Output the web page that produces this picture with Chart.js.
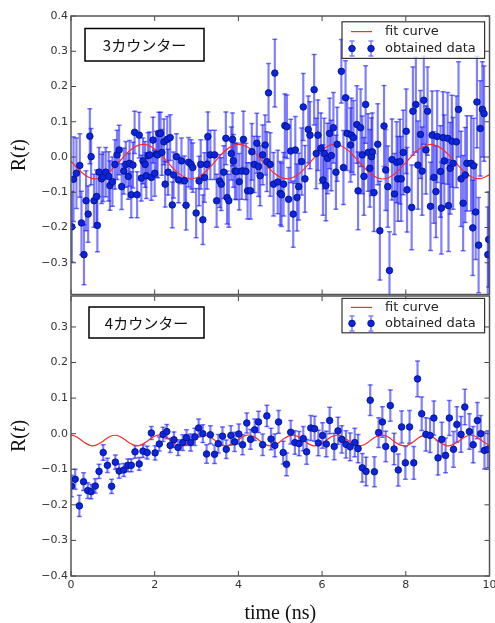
<!DOCTYPE html>
<html><head><meta charset="utf-8">
<script src="https://cdn.jsdelivr.net/npm/chart.js@4/dist/chart.umd.min.js"></script>
<style>
html,body{margin:0;padding:0;background:#fff;}
#wrap{position:relative;width:495px;height:623px;overflow:hidden;background:#fff;}
#c1{position:absolute;left:0;top:0;width:495px;height:300px;}
#c2{position:absolute;left:0;top:290px;width:495px;height:333px;}
</style></head><body>
<div id="wrap"><canvas id="c1" width="495" height="300"></canvas><canvas id="c2" width="495" height="333"></canvas></div>
<script>
// ---------- tick labels / text ----------
const xTicks = [0, 2, 4, 6, 8, 10];
const topYTicks = [-0.3, -0.2, -0.1, 0.0, 0.1, 0.2, 0.3, 0.4];
const botYTicks = [-0.4, -0.3, -0.2, -0.1, 0.0, 0.1, 0.2, 0.3];
const panelLabels = ['3カウンター', '4カウンター'];
const legendLabels = ['fit curve', 'obtained data'];
const xTitle = 'time (ns)';

// ---------- top panel (3 counters): obtained data ----------
const topX = [0.02,0.06,0.13,0.21,0.25,0.31,0.36,0.41,0.45,0.48,
0.55,0.61,0.63,0.67,0.73,0.77,0.83,0.90,0.93,0.99,
1.05,1.10,1.15,1.21,1.26,1.31,1.37,1.40,1.44,1.48,
1.52,1.58,1.63,1.68,1.72,1.77,1.80,1.84,1.88,1.92,
1.96,2.00,2.04,2.07,2.10,2.14,2.17,2.22,2.25,2.30,
2.32,2.37,2.42,2.45,2.52,2.57,2.64,2.71,2.75,2.81,
2.87,2.91,2.99,3.06,3.10,3.15,3.19,3.25,3.27,3.33,
3.43,3.48,3.55,3.59,3.65,3.70,3.73,3.77,3.83,3.86,
3.88,3.92,3.96,4.02,4.08,4.12,4.18,4.22,
4.29,4.32,4.38,4.44,4.48,4.52,4.58,4.64,4.68,4.72,
4.76,4.84,4.87,4.94,5.00,5.03,5.08,5.11,5.16,5.20,
5.25,5.31,5.36,5.40,5.44,5.51,5.55,5.59,5.67,5.71,
5.81,5.86,5.90,5.97,6.02,6.05,6.09,6.13,6.18,6.22,
6.27,6.33,6.36,6.46,6.51,6.56,6.60,6.68,6.70,6.75,
6.83,6.86,6.92,6.96,7.00,7.04,7.10,7.14,7.18,7.20,
7.24,7.33,7.38,7.48,7.52,7.57,7.61,7.67,7.73,7.78,
7.81,7.86,7.89,7.94,8.01,8.03,8.14,8.17,8.24,8.29,
8.35,8.39,8.43,8.48,8.52,8.59,8.63,8.67,8.72,8.75,
8.83,8.85,8.89,8.92,9.00,9.02,9.06,9.10,9.13,9.21,
9.26,9.32,9.37,9.42,9.46,9.56,9.60,9.62,9.67,9.70,
9.74,9.78,9.83,9.87,9.96,9.98];
const topY = [-0.198,-0.063,-0.046,-0.024,-0.187,-0.277,-0.124,-0.162,0.059,0.001,
-0.124,-0.112,-0.194,-0.043,-0.062,-0.056,-0.043,-0.055,-0.081,-0.070,
-0.021,0.006,0.020,-0.084,-0.040,-0.021,-0.055,-0.018,-0.107,-0.023,
0.070,-0.107,0.062,-0.060,-0.011,-0.021,-0.053,0.004,0.006,-0.058,
0.048,-0.046,0.008,0.006,0.067,0.067,0.013,0.043,-0.077,0.050,
-0.043,0.055,-0.136,-0.051,0.001,-0.065,-0.011,-0.067,-0.137,-0.015,
-0.021,-0.030,-0.159,-0.068,-0.021,-0.178,-0.058,-0.021,0.058,0.006,
0.006,-0.124,-0.068,-0.077,-0.043,0.053,-0.115,-0.124,0.010,0.050,
-0.011,-0.040,-0.041,-0.070,-0.040,0.050,-0.041,-0.096,
-0.096,0.015,-0.021,0.039,-0.027,-0.053,0.006,0.034,-0.013,0.182,
-0.021,-0.077,0.238,-0.071,-0.103,-0.107,-0.077,0.089,0.086,-0.120,
0.017,-0.162,0.020,-0.115,-0.084,-0.013,0.142,-0.062,0.078,0.062,
0.191,0.010,0.062,0.025,-0.065,0.010,-0.081,-0.004,0.067,0.004,
0.083,-0.043,0.036,0.243,-0.030,0.168,0.067,0.034,0.062,0.055,
0.092,-0.096,0.083,0.006,-0.055,0.149,0.013,-0.032,0.001,0.015,
-0.101,0.036,-0.209,0.088,-0.037,-0.084,-0.322,-0.007,-0.105,-0.015,
-0.062,-0.013,-0.062,0.013,0.073,-0.093,-0.143,0.130,0.149,-0.023,
0.064,-0.040,0.161,0.020,0.130,-0.140,0.062,-0.058,-0.098,0.058,
-0.041,-0.145,0.055,-0.011,0.053,-0.138,-0.032,0.045,-0.018,0.043,
0.135,-0.062,-0.131,-0.051,-0.018,-0.018,-0.201,-0.025,-0.156,0.156,
-0.250,0.081,0.135,0.123,-0.277,-0.234];
const topErr = [0.10,0.12,0.10,0.09,0.09,0.085,0.085,0.08,0.078,0.08,
0.075,0.075,0.075,0.07,0.07,0.07,0.07,0.07,0.07,0.07,
0.07,0.07,0.07,0.065,0.065,0.065,0.065,0.065,0.065,0.065,
0.06,0.065,0.065,0.065,0.065,0.065,0.065,0.065,0.065,0.065,
0.065,0.065,0.065,0.065,0.06,0.06,0.065,0.065,0.065,0.065,
0.065,0.065,0.065,0.065,0.065,0.065,0.065,0.07,0.07,0.07,
0.07,0.07,0.07,0.07,0.07,0.07,0.07,0.07,0.07,0.07,
0.07,0.075,0.075,0.075,0.075,0.075,0.075,0.075,0.075,0.075,
0.075,0.08,0.08,0.08,0.08,0.08,0.08,0.08,
0.08,0.08,0.08,0.085,0.085,0.085,0.085,0.085,0.085,0.083,
0.09,0.09,0.096,0.09,0.09,0.09,0.09,0.09,0.09,0.09,
0.09,0.094,0.095,0.095,0.095,0.095,0.095,0.095,0.095,0.095,
0.10,0.10,0.10,0.10,0.10,0.10,0.10,0.10,0.10,0.10,
0.10,0.105,0.105,0.09,0.105,0.105,0.105,0.105,0.105,0.105,
0.11,0.11,0.11,0.11,0.11,0.11,0.11,0.11,0.11,0.11,
0.11,0.115,0.14,0.115,0.115,0.115,0.11,0.115,0.115,0.115,
0.12,0.12,0.12,0.12,0.12,0.12,0.12,0.125,0.135,0.125,
0.125,0.125,0.125,0.125,0.125,0.125,0.125,0.13,0.13,0.13,
0.13,0.13,0.13,0.13,0.13,0.13,0.13,0.13,0.13,0.13,
0.135,0.135,0.135,0.135,0.135,0.135,0.135,0.135,0.135,0.13,
0.135,0.135,0.135,0.135,0.135,0.135];

// ---------- top panel fit curve ----------
const topFitX = [0,0.2,0.4,0.6,0.8,1.0,1.2,1.4,1.6,1.8,2.0,2.2,2.4,2.6,2.8,3.0,3.2,3.4,3.6,3.8,
4.0,4.2,4.4,4.6,4.8,5.0,5.2,5.4,5.6,5.8,6.0,6.2,6.4,6.6,6.8,7.0,7.2,7.4,7.6,7.8,
8.0,8.2,8.4,8.6,8.8,9.0,9.2,9.4,9.6,9.8,10.0];
const topFitY = [-0.012,-0.038,-0.056,-0.062,-0.053,-0.033,-0.007,0.018,0.033,0.035,
0.023,0.000,-0.027,-0.049,-0.061,-0.059,-0.043,-0.019,0.008,0.028,
0.036,0.030,0.011,-0.015,-0.040,-0.057,-0.062,-0.052,-0.030,-0.004,
0.020,0.034,0.034,0.021,-0.003,-0.029,-0.051,-0.062,-0.058,-0.041,
-0.016,0.010,0.029,0.036,0.028,0.009,-0.017,-0.042,-0.058,-0.061,-0.050];

// ---------- bottom panel (4 counters): obtained data ----------
const botX = [0.01,0.10,0.20,0.30,0.40,0.48,0.58,0.67,0.77,0.87,
0.97,1.06,1.15,1.26,1.36,1.44,1.53,1.63,1.72,1.82,
1.92,2.01,2.11,2.20,2.29,2.37,2.46,
2.56,2.67,2.76,2.86,2.96,3.05,3.15,3.24,3.33,3.43,
3.52,3.62,3.71,3.82,3.91,4.01,4.10,4.20,4.29,4.39,
4.48,4.58,4.68,4.78,4.87,4.96,
5.07,5.15,5.25,5.35,5.45,5.55,5.63,5.73,5.82,5.91,
6.01,6.10,6.18,6.29,6.38,6.47,6.57,6.67,6.78,6.86,
6.96,7.05,7.15,7.25,7.35,7.44,7.52,
7.63,7.72,7.82,7.90,7.99,8.09,8.19,8.28,8.38,8.48,
8.58,8.67,8.77,8.86,8.95,9.04,9.14,9.22,9.32,9.41,
9.52,9.61,9.71,9.79,9.88,9.96];
const botY = [-0.147,-0.128,-0.203,-0.135,-0.160,-0.163,-0.147,-0.106,-0.053,-0.089,
-0.148,-0.080,-0.105,-0.102,-0.089,-0.089,-0.051,-0.085,-0.049,-0.053,
0.002,-0.054,-0.029,-0.002,0.006,-0.033,-0.017,
-0.039,-0.025,-0.011,-0.025,-0.009,0.016,0.000,-0.057,-0.003,-0.058,
-0.028,-0.007,-0.044,-0.005,-0.023,-0.001,-0.031,0.030,-0.016,0.011,
0.033,-0.031,0.050,-0.015,-0.033,0.033,
-0.053,-0.086,0.004,-0.025,-0.028,-0.014,-0.051,0.016,0.014,-0.026,
-0.005,-0.029,0.037,-0.036,0.008,-0.016,-0.030,-0.037,-0.025,-0.042,
-0.096,-0.106,0.094,-0.107,0.003,0.033,-0.036,
0.079,-0.043,-0.102,0.019,-0.082,0.019,-0.082,0.154,0.056,-0.002,
-0.005,0.044,-0.068,-0.016,-0.061,0.044,-0.044,0.026,-0.002,0.075,
0.006,-0.031,0.037,0.000,-0.047,-0.044];
const botErr = [0.030,0.028,0.030,0.025,0.022,0.020,0.020,0.020,0.022,0.020,
0.020,0.020,0.020,0.018,0.018,0.018,0.018,0.018,0.018,0.018,
0.018,0.020,0.020,0.020,0.020,0.020,0.022,
0.022,0.022,0.022,0.024,0.024,0.025,0.025,0.026,0.025,0.026,
0.026,0.026,0.026,0.027,0.027,0.028,0.028,0.028,0.028,0.030,
0.030,0.030,0.030,0.030,0.032,0.032,
0.032,0.032,0.033,0.033,0.034,0.034,0.035,0.035,0.035,0.036,
0.036,0.036,0.037,0.037,0.038,0.038,0.038,0.039,0.040,0.040,
0.040,0.040,0.043,0.042,0.042,0.043,0.043,
0.044,0.044,0.045,0.045,0.046,0.046,0.046,0.050,0.047,0.047,
0.048,0.048,0.048,0.048,0.049,0.049,0.050,0.050,0.050,0.050,
0.050,0.051,0.051,0.051,0.052,0.052];

// ---------- bottom panel fit curve ----------
const botFitX = [0,0.1,0.2,0.3,0.4,0.5,0.6,0.7,0.8,0.9,1.0,1.1,1.2,1.3,1.4,1.5,1.6,1.7,1.8,1.9,
2.0,2.1,2.2,2.3,2.4,2.5,2.6,2.7,2.8,2.9,3.0,3.1,3.2,3.3,3.4,3.5,3.6,3.7,3.8,3.9,
4.0,4.1,4.2,4.3,4.4,4.5,4.6,4.7,4.8,4.9,5.0,5.1,5.2,5.3,5.4,5.5,5.6,5.7,5.8,5.9,
6.0,6.1,6.2,6.3,6.4,6.5,6.6,6.7,6.8,6.9,7.0,7.1,7.2,7.3,7.4,7.5,7.6,7.7,7.8,7.9,
8.0,8.1,8.2,8.3,8.4,8.5,8.6,8.7,8.8,8.9,9.0,9.1,9.2,9.3,9.4,9.5,9.6,9.7,9.8,9.9,10.0];
const botFitY = [-0.004,-0.007,-0.014,-0.023,-0.030,-0.034,-0.032,-0.026,-0.018,-0.010,
-0.005,-0.005,-0.010,-0.018,-0.026,-0.032,-0.034,-0.030,-0.023,-0.014,
-0.007,-0.004,-0.006,-0.012,-0.021,-0.029,-0.034,-0.033,-0.028,-0.020,
-0.011,-0.005,-0.004,-0.008,-0.015,-0.024,-0.031,-0.034,-0.032,-0.025,
-0.017,-0.009,-0.004,-0.005,-0.010,-0.019,-0.027,-0.033,-0.034,-0.030,
-0.022,-0.013,-0.007,-0.004,-0.007,-0.013,-0.022,-0.030,-0.034,-0.033,
-0.027,-0.019,-0.010,-0.005,-0.004,-0.009,-0.017,-0.025,-0.032,-0.034,
-0.031,-0.024,-0.015,-0.008,-0.004,-0.005,-0.011,-0.020,-0.028,-0.033,
-0.034,-0.029,-0.021,-0.012,-0.006,-0.004,-0.007,-0.014,-0.023,-0.030,
-0.034,-0.032,-0.026,-0.018,-0.010,-0.005,-0.005,-0.010,-0.018,-0.026,-0.032];

// ---------- styling ----------
const ERR = 'rgba(20,20,255,0.55)';
const PT_FILL = '#0b24e4';
const PT_EDGE = '#00106e';
const FIT = '#ff2b2b';
const TICK_FONT = {family: 'DejaVu Sans', size: 11};
const SERIF = '"Liberation Serif", "DejaVu Serif", serif';

function fmtY(v) {
  const r = Math.round(v * 10) / 10;
  return (r < 0 ? '\u2212' : '') + Math.abs(r).toFixed(1);
}

const decor = {
  id: 'decor',
  afterDatasetsDraw(chart, args, o) {
    const {ctx, chartArea: a} = chart;
    const xs = chart.scales.x, ys = chart.scales.y;
    ctx.save();
    // inward ticks on all four sides
    ctx.strokeStyle = '#444';
    ctx.lineWidth = 1;
    ctx.beginPath();
    xTicks.forEach(v => {
      const px = xs.getPixelForValue(v);
      ctx.moveTo(px, a.bottom); ctx.lineTo(px, a.bottom - 5);
      ctx.moveTo(px, a.top); ctx.lineTo(px, a.top + 5);
    });
    o.yTicks.forEach(v => {
      const py = ys.getPixelForValue(v);
      ctx.moveTo(a.left, py); ctx.lineTo(a.left + 5, py);
      ctx.moveTo(a.right, py); ctx.lineTo(a.right - 5, py);
    });
    ctx.stroke();
    // axes frame
    ctx.strokeStyle = '#555';
    ctx.lineWidth = 1.5;
    ctx.strokeRect(a.left, a.top, a.right - a.left, a.bottom - a.top);

    // panel label box
    const [bdx, bdy, bw, bh] = o.box;
    const bx = a.left + bdx, by = a.top + bdy;
    ctx.fillStyle = '#fff';
    ctx.fillRect(bx, by, bw, bh);
    ctx.strokeStyle = '#000';
    ctx.lineWidth = 1.5;
    ctx.strokeRect(bx, by, bw, bh);
    ctx.fillStyle = '#111';
    ctx.font = '15px "Noto Sans CJK JP"';
    ctx.textAlign = 'center';
    ctx.textBaseline = 'middle';
    ctx.fillText(o.label, bx + bw / 2, by + bh / 2 + 0.5);

    // legend
    const lx = a.left + 271, ly = a.top + o.legTop, lw = 142.6, lh = o.legH;
    ctx.fillStyle = 'rgba(255,255,255,0.8)';
    ctx.fillRect(lx, ly, lw, lh);
    ctx.strokeStyle = '#333';
    ctx.lineWidth = 1.2;
    ctx.strokeRect(lx, ly, lw, lh);
    const r1 = ly + o.r1, r2 = ly + o.r2;
    ctx.strokeStyle = FIT;
    ctx.lineWidth = 1.2;
    ctx.beginPath();
    ctx.moveTo(lx + 9, r1); ctx.lineTo(lx + 30, r1);
    ctx.stroke();
    [lx + 10, lx + 29].forEach(mx => {
      ctx.strokeStyle = ERR;
      ctx.lineWidth = 1.5;
      ctx.beginPath();
      ctx.moveTo(mx, r2 - 7.5); ctx.lineTo(mx, r2 + 7.5);
      ctx.moveTo(mx - 2.5, r2 - 7.5); ctx.lineTo(mx + 2.5, r2 - 7.5);
      ctx.moveTo(mx - 2.5, r2 + 7.5); ctx.lineTo(mx + 2.5, r2 + 7.5);
      ctx.stroke();
      ctx.beginPath();
      ctx.arc(mx, r2, 3.3, 0, Math.PI * 2);
      ctx.fillStyle = PT_FILL;
      ctx.fill();
      ctx.strokeStyle = PT_EDGE;
      ctx.lineWidth = 0.8;
      ctx.stroke();
    });
    ctx.fillStyle = '#222';
    ctx.font = '13px "DejaVu Sans"';
    ctx.textAlign = 'left';
    ctx.textBaseline = 'middle';
    ctx.fillText(legendLabels[0], lx + 43, r1);
    ctx.fillText(legendLabels[1], lx + 43, r2);

    // y-axis title R(t) with italic t
    const cy = (a.top + a.bottom) / 2;
    ctx.translate(20, cy);
    ctx.rotate(-Math.PI / 2);
    ctx.fillStyle = '#111';
    ctx.textBaseline = 'middle';
    ctx.textAlign = 'left';
    const fN = '20px ' + SERIF, fI = 'italic 20px ' + SERIF;
    ctx.font = fN; const w1 = ctx.measureText('R(').width, w3 = ctx.measureText(')').width;
    ctx.font = fI; const w2 = ctx.measureText('t').width;
    let sx = -(w1 + w2 + w3) / 2;
    ctx.font = fN; ctx.fillText('R(', sx, 0); sx += w1;
    ctx.font = fI; ctx.fillText('t', sx, 0); sx += w2;
    ctx.font = fN; ctx.fillText(')', sx, 0);
    ctx.restore();
  }
};

function makePanel(id, P) {
  const pts = P.x.map((t, i) => ({x: t, y: P.y[i]}));
  const bars = P.x.map((t, i) => ({x: t, y: [P.y[i] - P.e[i], P.y[i] + P.e[i]]}));
  const caps = [];
  P.x.forEach((t, i) => {
    caps.push({x: t, y: P.y[i] - P.e[i]});
    caps.push({x: t, y: P.y[i] + P.e[i]});
  });
  const fit = P.fx.map((t, i) => ({x: t, y: P.fy[i]}));
  const xScale = {
    type: 'linear', min: 0, max: 10, offset: false,
    display: P.showX,
    afterBuildTicks: s => { s.ticks = xTicks.map(v => ({value: v})); },
    afterFit: s => { s.height = P.xHeight; s.paddingLeft = 0; s.paddingRight = 0; },
    grid: {display: false, drawTicks: false, offset: false},
    border: {display: false},
    ticks: {padding: 3, color: '#333', font: TICK_FONT, maxRotation: 0, autoSkip: false},
    title: {display: P.showX, text: xTitle, color: '#111',
            font: {family: 'Liberation Serif', size: 20, lineHeight: 0.9},
            padding: {top: 0, bottom: 0}}
  };
  return new Chart(document.getElementById(id), {
    type: 'scatter',
    data: {datasets: [
      {type: 'bar', data: bars, backgroundColor: ERR, borderWidth: 0, barThickness: 1.5, order: 4},
      {type: 'line', data: caps, showLine: false, pointStyle: 'line', pointRadius: 2.5,
       borderColor: ERR, pointBorderColor: ERR, pointBorderWidth: 1.5, order: 3},
      {type: 'line', data: fit, borderColor: FIT, borderWidth: 1.2, pointRadius: 0,
       tension: 0.4, fill: false, order: 2},
      {type: 'scatter', data: pts, pointRadius: 3.3, backgroundColor: PT_FILL,
       borderColor: PT_EDGE, borderWidth: 0.8, order: 1}
    ]},
    options: {
      responsive: false, maintainAspectRatio: false, animation: false,
      devicePixelRatio: 1, events: [],
      layout: {padding: {left: 0, right: 4, top: P.padTop, bottom: P.padBottom}},
      plugins: {legend: {display: false}, tooltip: {enabled: false}, decor: P.decor},
      scales: {
        x: xScale,
        y: {
          type: 'linear', min: P.ymin, max: P.ymax,
          afterBuildTicks: s => { s.ticks = P.yTicks.map(v => ({value: v})); },
          afterFit: s => { s.width = 71; s.paddingTop = 0; s.paddingBottom = 0; },
          grid: {display: false, drawTicks: false},
          border: {display: false},
          ticks: {padding: 3, color: '#333', font: TICK_FONT, autoSkip: false, callback: v => fmtY(v)}
        }
      }
    },
    plugins: [decor]
  });
}

makePanel('c1', {
  x: topX, y: topY, e: topErr, fx: topFitX, fy: topFitY,
  ymin: -0.39, ymax: 0.4, yTicks: topYTicks,
  showX: false, xHeight: 0, padTop: 16, padBottom: 4,
  decor: {yTicks: topYTicks, label: panelLabels[0], box: [14, 12.5, 119, 32.5],
          legTop: 5.8, legH: 36.6, r1: 9.8, r2: 26.8}
});
makePanel('c2', {
  x: botX, y: botY, e: botErr, fx: botFitX, fy: botFitY,
  ymin: -0.4, ymax: 0.387, yTicks: botYTicks,
  showX: true, xHeight: 47, padTop: 6, padBottom: 0,
  decor: {yTicks: botYTicks, label: panelLabels[1], box: [18, 11, 115, 31],
          legTop: 2.4, legH: 34.4, r1: 9, r2: 25}
});
</script>
</body></html>
